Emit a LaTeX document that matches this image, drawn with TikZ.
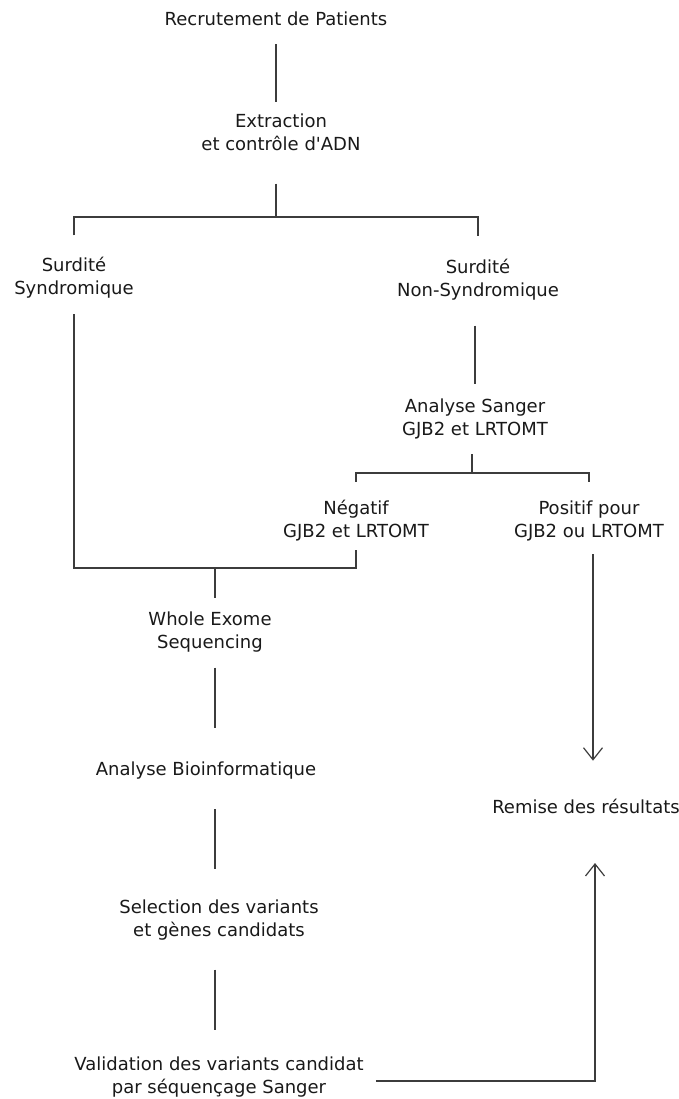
\documentclass[tikz,border=0pt]{standalone}
\usepackage{fontspec}
\setmainfont{DejaVu Sans}
\usetikzlibrary{arrows.meta}
\definecolor{linegray}{RGB}{60,60,60}

\tikzset{
  lbl/.style = {align=center, inner sep=0pt, text=black!90,
                font=\fontsize{18}{23}\selectfont},
  link/.style = {draw=linegray, line width=1.2pt},
  arr/.style = {link, -{Straight Barb[length=12pt, width=19pt, line width=1.2pt]}}
}

\begin{document}
\begin{tikzpicture}[x=1pt, y=-1pt]
\useasboundingbox (0,0) rectangle (679,1099);

\node[lbl] (rec) at (276,19) {Recrutement de Patients};
\node[lbl] (ext) at (281,132) {Extraction\\et contrôle d\textquotesingle ADN};
\node[lbl] (syn) at (74,278) {Surdité\\Syndromique};
\node[lbl] (nsyn) at (478,280) {Surdité\\Non-Syndromique};
\node[lbl] (sang) at (475,419) {Analyse Sanger\\GJB2 et LRTOMT};
\node[lbl] (neg) at (356,521) {Négatif\\GJB2 et LRTOMT};
\node[lbl] (pos) at (589,521) {Positif pour\\GJB2 ou LRTOMT};
\node[lbl] (wes) at (210,632) {Whole Exome\\Sequencing};
\node[lbl] (bio) at (206,771) {Analyse Bioinformatique};
\node[lbl] (sel) at (219,920) {Selection des variants\\et gènes candidats};
\node[lbl] (val) at (219,1077) {Validation des variants candidat\\par séquençage Sanger};
\node[lbl] (rem) at (586,806) {Remise des résultats};

\coordinate (j1) at (276,217);
\coordinate (j2) at (215,568);
\coordinate (j3) at (472,473);

% upper part
\draw[link, shorten <=18pt, shorten >=11pt] (rec.south) -- (rec.south |- ext.north);
\draw[link, shorten <=33pt] (ext.south -| j1) -- (j1);
\draw[link] ([yshift=21.8pt]syn.north) |- (j1) -| ([yshift=23.3pt]nsyn.north);

% non syndromic branch
\draw[link, shorten <=24.8pt, shorten >=14.8pt] (sang.north |- nsyn.south) -- (sang.north);
\draw[link, shorten <=15pt] (sang.south -| j3) -- (j3);
\draw[link] ([yshift=18.8pt]neg.north) |- (j3) -| ([yshift=18.8pt]pos.north);

% join to exome
\draw[link] ([yshift=-15.3pt]syn.south) |- (j2) -| ([yshift=-8pt]neg.south);
\draw[link, shorten >=13.8pt] (j2) -- (j2 |- wes.north);
\draw[link, shorten <=15.3pt, shorten >=33.8pt] (j2 |- wes.south) -- (j2 |- bio.north);
\draw[link, shorten <=29.3pt, shorten >=30.8pt] (j2 |- bio.south) -- (j2 |- sel.north);
\draw[link, shorten <=29.3pt, shorten >=26.3pt] (j2 |- sel.south) -- (j2 |- val.north);

% results
\draw[arr, shorten <=13pt, shorten >=37.8pt] ([xshift=4pt]pos.south) -- ([xshift=4pt]pos.south |- rem.north);
\draw[arr, shorten >=49.5pt] ([xshift=12pt, yshift=-4pt]val.east) -| ([xshift=9pt]rem.south);
\end{tikzpicture}
\end{document}
